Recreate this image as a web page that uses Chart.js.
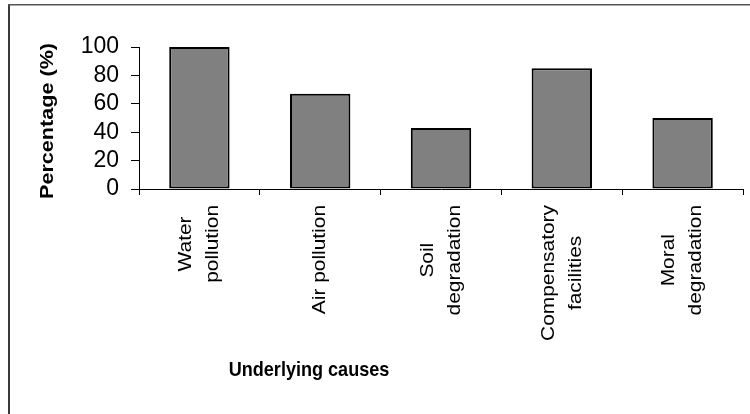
<!DOCTYPE html>
<html>
<head>
<meta charset="utf-8">
<title>Underlying causes</title>
<script src="https://cdn.jsdelivr.net/npm/chart.js@4.4.1/dist/chart.umd.min.js"></script>
<style>
  html, body { margin: 0; padding: 0; background: #fff; }
  canvas { display: block; }
</style>
</head>
<body>
<canvas id="chart" width="750" height="414"></canvas>
<script>
// Categories (multi-line labels are arrays of lines)
const categories = [
  ['Water', 'pollution'],
  'Air pollution',
  ['Soil', 'degradation'],
  ['Compensatory', 'facilities'],
  ['Moral', 'degradation']
];
// Share of respondents naming each cause, in percent
const percentages = [100, 67, 43, 85, 50];
// Y axis tick values
const yTicks = [0, 20, 40, 60, 80, 100];

const FONT = '"Liberation Sans", Arial, Helvetica, sans-serif';
const xTitle = 'Underlying causes';
const yTitle = 'Percentage (%)';

// Frame lines along the left and top edges
const framePlugin = {
  id: 'frame',
  beforeDraw(chart) {
    const ctx = chart.ctx;
    ctx.save();
    ctx.fillStyle = '#fff';
    ctx.fillRect(0, 0, chart.width, chart.height);
    ctx.fillStyle = '#3a3a3a';
    ctx.fillRect(8, 4, 2, chart.height - 4);
    ctx.fillStyle = '#555';
    ctx.fillRect(8, 4, chart.width - 8, 1.5);
    ctx.restore();
  }
};

// Draws text with its glyphs stretched along the baseline (sx) and across it (sy)
function stretchedText(ctx, text, x, y, rot, sx, sy) {
  ctx.save();
  ctx.translate(x, y);
  ctx.rotate(rot);
  ctx.scale(sx, sy);
  ctx.fillText(text, 0, 0);
  ctx.restore();
}

// Vertical category labels (lines centred on each other) and both axis titles
const labelPlugin = {
  id: 'xlabels',
  afterDraw(chart) {
    const ctx = chart.ctx;
    const xs = chart.scales.x;
    const ys = chart.scales.y;
    const top = xs.top + 16;
    const lineH = 27;
    const stretch = 1.1;
    ctx.save();
    ctx.fillStyle = '#000';
    ctx.font = '19px ' + FONT;
    ctx.textAlign = 'center';
    ctx.textBaseline = 'middle';
    chart.data.labels.forEach((lab, i) => {
      const lines = Array.isArray(lab) ? lab : [lab];
      const maxW = Math.max(...lines.map(l => ctx.measureText(l).width)) * stretch;
      const x = xs.getPixelForValue(i);
      const yc = top + maxW / 2;
      lines.forEach((l, k) => {
        const off = (k - (lines.length - 1) / 2) * lineH;
        stretchedText(ctx, l, x + off, yc, -Math.PI / 2, stretch, 1);
      });
    });
    // x axis title
    ctx.font = 'bold 21px ' + FONT;
    stretchedText(ctx, xTitle, 309, 370, 0, 0.86, 1);
    // y axis title, centred on the value axis
    ctx.font = 'bold 18px ' + FONT;
    stretchedText(ctx, yTitle, 48.5, (ys.top + ys.bottom) / 2 + 3, -Math.PI / 2, 1.2, 1);
    ctx.restore();
  }
};

new Chart(document.getElementById('chart'), {
  type: 'bar',
  data: {
    labels: categories,
    datasets: [{
      data: percentages,
      backgroundColor: '#808080',
      borderColor: '#000',
      borderWidth: 2,
      borderSkipped: false,
      barPercentage: 0.5,
      categoryPercentage: 1.0
    }]
  },
  options: {
    responsive: false,
    animation: false,
    devicePixelRatio: 1,
    layout: { padding: { left: 30, top: 47, right: 7, bottom: 0 } },
    plugins: {
      legend: { display: false },
      tooltip: { enabled: false },
      title: { display: false }
    },
    scales: {
      x: {
        offset: true,
        grid: {
          offset: true,
          drawOnChartArea: false,
          drawTicks: true,
          tickLength: 6,
          color: '#000',
          lineWidth: 1
        },
        border: { display: true, color: '#000', width: 1 },
        ticks: { display: false },
        afterFit(scale) { scale.height = 225; }
      },
      y: {
        min: yTicks[0],
        max: yTicks[yTicks.length - 1],
        grid: {
          drawOnChartArea: false,
          drawTicks: true,
          tickLength: 8,
          color: '#000',
          lineWidth: 1
        },
        border: { display: true, color: '#000', width: 1 },
        ticks: {
          color: '#000',
          padding: 12,
          stepSize: yTicks[1] - yTicks[0],
          autoSkip: false,
          font: { family: FONT, size: 23 }
        },
        afterFit(scale) { scale.width = 109; }
      }
    }
  },
  plugins: [framePlugin, labelPlugin]
});
</script>
</body>
</html>
